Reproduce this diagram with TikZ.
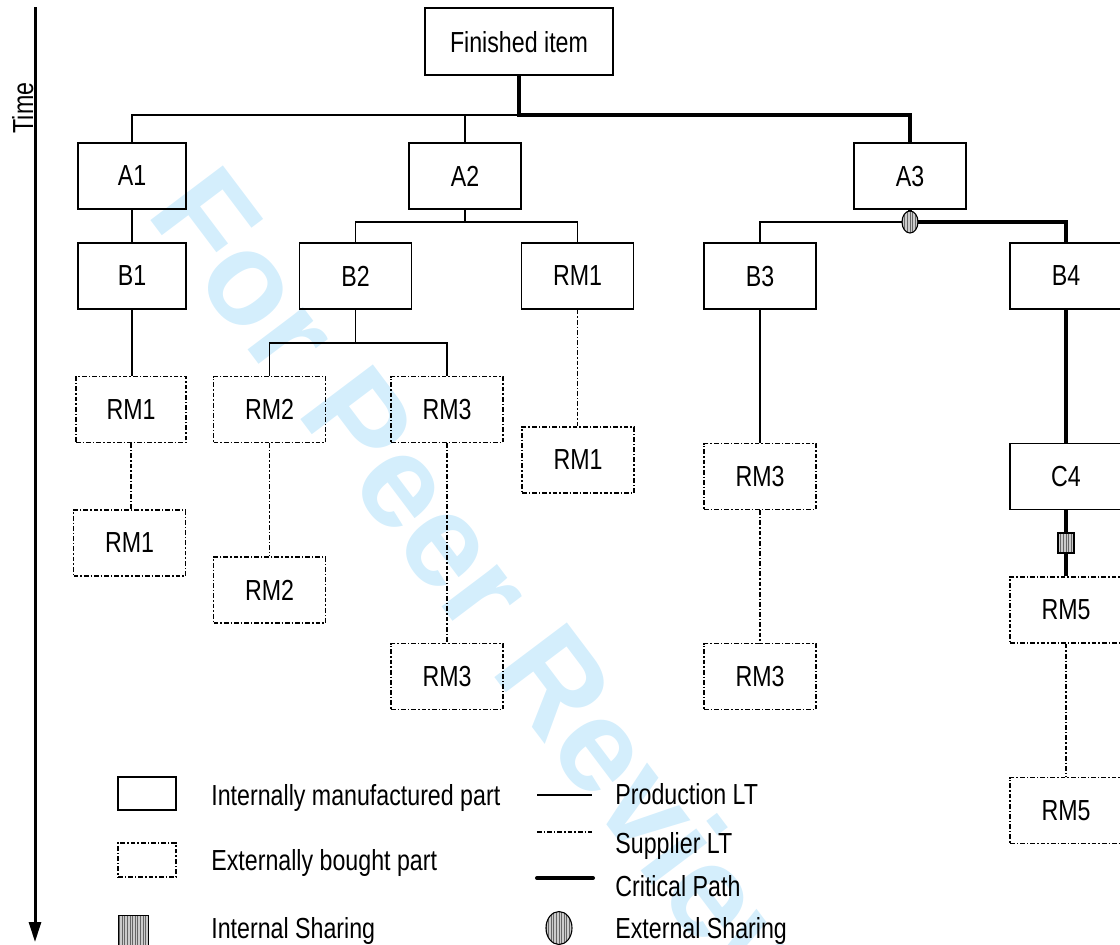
\documentclass[tikz,border=0pt]{standalone}
\usepackage{fontspec}
\setmainfont{Liberation Sans}[FakeStretch=0.8]
\newfontfamily\markfont{Liberation Sans}
\usetikzlibrary{shapes.geometric,patterns.meta,arrows.meta}
\definecolor{markblue}{RGB}{212,238,252}
\newcommand\partfont{\fontsize{14.5}{16}\selectfont}

\begin{document}
\begin{tikzpicture}[x=0.5pt,y=-0.5pt,
  dashdot/.style={dash pattern=on 2.4pt off 1pt on 0.7pt off 1pt},
  part/.style={draw, line width=0.65pt, minimum width=56pt, minimum height=33pt,
               inner sep=0pt, text depth=0pt, font=\partfont},
  bought/.style={part, dashdot},
  prod/.style={line width=0.6pt},
  supp/.style={line width=0.7pt, dashdot},
  crit/.style={line width=2pt},
  sharing/.style={draw, line width=0.55pt, inner sep=0pt, preaction={fill=gray!40},
                  pattern={Lines[angle=90,distance=1.3pt,line width=0.45pt]},
                  pattern color=black!60},
  intshare/.style={sharing, rectangle, minimum width=8pt, minimum height=10pt},
  extshare/.style={sharing, ellipse, minimum width=8pt, minimum height=11pt},
  legtext/.style={anchor=base west, inner sep=0pt, font=\partfont}]

\clip (0,0) rectangle (1120,944);

% watermark
\node[markblue, font=\markfont\bfseries\fontsize{66}{66}\selectfont,
      rotate=-53, anchor=base west, inner sep=0pt] (wm) at (145,213) {For Peer Review};

% time axis
\coordinate (ttop) at (35,7);
\coordinate (tbot) at (35,942);
\draw[line width=1.5pt, -{Triangle[length=10pt,width=6pt]}] (ttop) -- (tbot);
\node[rotate=90, anchor=base, inner sep=0pt, font=\partfont] (time) at (33,108) {Time};

% product structure
\node[part, minimum width=94pt, minimum height=33.5pt] (fin) at (519,41.5) {Finished item};

\node[part, minimum width=54pt] (A1) at (132,176) {A1};
\node[part] (A2) at (465,176) {A2};
\node[part] (A3) at (910,176) {A3};

\node[part, minimum width=54pt] (B1) at (132,276) {B1};
\node[part] (B2) at (355.5,276) {B2};
\node[part] (RM1a) at (577.5,276) {RM1};
\node[part] (B3) at (760,276) {B3};
\node[part] (B4) at (1066,276) {B4};

\node[bought, minimum width=55pt] (RM1b) at (131,409.5) {RM1};
\node[bought] (RM1c) at (129.5,543) {RM1};
\node[bought] (RM2a) at (269.5,409.5) {RM2};
\node[bought] (RM3a) at (447,409.5) {RM3};
\node[bought] (RM2b) at (269.5,590) {RM2};
\node[bought] (RM3b) at (447,676.5) {RM3};
\node[bought] (RM1d) at (578,460) {RM1};
\node[bought] (RM3c) at (760,476.5) {RM3};
\node[bought] (RM3d) at (760,676.5) {RM3};
\node[part] (C4) at (1066,476.5) {C4};
\node[bought] (RM5a) at (1066,610) {RM5};
\node[bought] (RM5b) at (1066,810.5) {RM5};

\node[extshare] (ext) at (910,222) {};
\node[intshare] (intl) at (1066,543) {};

% level 1
\coordinate (bus1) at (519,115);
\draw[prod] (bus1) -| (A1.north);
\draw[prod] (bus1 -| A2.north) -- (A2.north);
\draw[crit] (fin.south) -- (bus1) -| (A3.north);

% level 2
\coordinate (bus2) at (465,222);
\draw[prod] (A1.south) -- (B1.north);
\draw[prod] (A2.south) -- (bus2);
\draw[prod] (B2.north) |- (bus2) -| (RM1a.north);
\draw[crit] (A3.south) -- (ext.north);
\draw[prod] (ext.west) -| (B3.north);
\draw[crit] (ext.east) -| (B4.north);

% level 3 and below
\coordinate (bus3) at (355.5,343);
\draw[prod] (B1.south) -- (B1.south |- RM1b.north);
\draw[supp] (RM1b.south) -- (RM1b.south |- RM1c.north);
\draw[prod] (B2.south) -- (bus3);
\draw[prod] (RM2a.north) |- (bus3) -| (RM3a.north);
\draw[supp] (RM2a.south) -- (RM2b.north);
\draw[supp] (RM3a.south) -- (RM3b.north);
\draw[supp] (RM1a.south) -- (RM1a.south |- RM1d.north);
\draw[prod] (B3.south) -- (RM3c.north);
\draw[supp] (RM3c.south) -- (RM3d.north);
\draw[crit] (B4.south) -- (C4.north);
\draw[crit] (C4.south) -- (intl.north);
\draw[crit] (intl.south) -- (RM5a.north);
\draw[supp] (RM5a.south) -- (RM5b.north);

% legend
\node[part, minimum width=29pt, minimum height=16.5pt] (lgpart) at (147,793.5) {};
\node[bought, minimum width=29pt, minimum height=17pt] (lgbought) at (147,860) {};
\node[intshare, minimum width=15pt, minimum height=18pt, anchor=north west] (lgint) at (118,915) {};
\node[extshare, minimum width=13pt, minimum height=16.5pt] (lgext) at (559,928) {};

\node[legtext] (t1) at (211,805) {Internally manufactured part};
\node[legtext] (t2) at (211,870) {Externally bought part};
\node[legtext] (t3) at (211,938) {Internal Sharing};

\coordinate (pa) at (537,795);
\coordinate (pb) at (592,795);
\coordinate (sa) at (537,832);
\coordinate (sb) at (592,832);
\coordinate (ca) at (537,878);
\coordinate (cb) at (593,878);
\draw[prod] (pa) -- (pb);
\draw[supp] (sa) -- (sb);
\draw[crit, line cap=round] (ca) -- (cb);

\node[legtext] (t4) at (615,804) {Production LT};
\node[legtext] (t5) at (615,853) {Supplier LT};
\node[legtext] (t6) at (615,896) {Critical Path};
\node[legtext] (t7) at (615,938) {External Sharing};
\end{tikzpicture}
\end{document}
